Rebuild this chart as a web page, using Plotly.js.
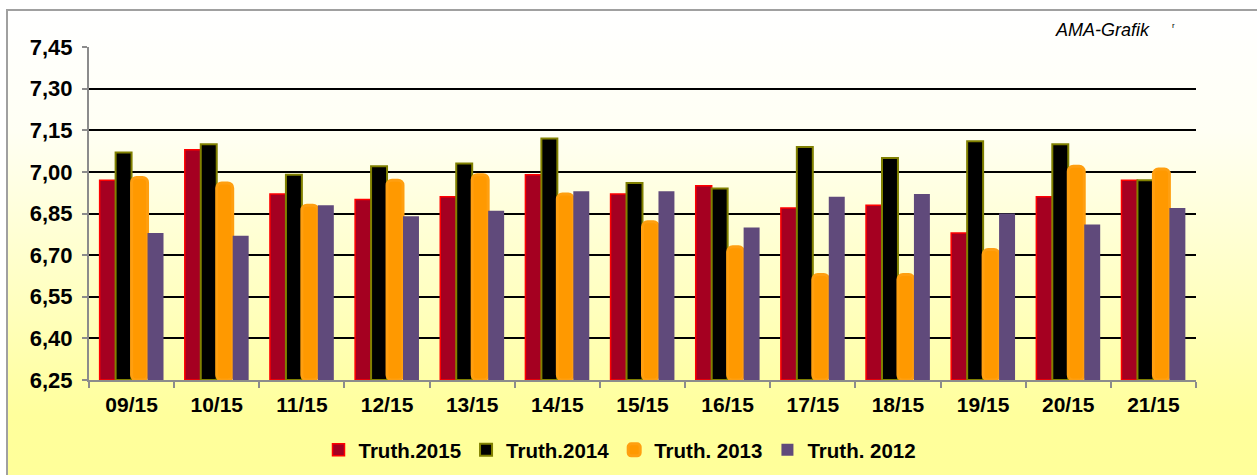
<!DOCTYPE html>
<html><head><meta charset="utf-8">
<script src="https://cdn.plot.ly/plotly-3.0.1.min.js"></script>
<style>
html,body{margin:0;padding:0;background:#fff;overflow:hidden;}
#bg{position:absolute;left:6px;top:9px;width:1260px;height:480px;border:2px solid #a0a0a0;box-sizing:border-box;
background:linear-gradient(to bottom,#ffffff 0%,#fffff4 25%,#ffffc8 55%,#ffff9c 85%,#ffff99 100%);}
#chart{position:absolute;left:0;top:0;width:1257px;height:475px;}
</style></head>
<body>
<div id="bg"></div>
<div id="chart"></div>
<script>
const categories = ["09/15","10/15","11/15","12/15","13/15","14/15","15/15","16/15","17/15","18/15","19/15","20/15","21/15"];
const truth2015 = [6.97,7.08,6.92,6.90,6.91,6.99,6.92,6.95,6.87,6.88,6.78,6.91,6.97];
const truth2014 = [7.07,7.10,6.99,7.02,7.03,7.12,6.96,6.94,7.09,7.05,7.11,7.10,6.97];
const truth2013 = [6.98,6.96,6.88,6.97,6.99,6.92,6.82,6.73,6.63,6.63,6.72,7.02,7.01];
const truth2012 = [6.78,6.77,6.88,6.84,6.86,6.93,6.93,6.80,6.91,6.92,6.85,6.81,6.87];
const seriesNames = ["Truth.2015","Truth.2014","Truth. 2013","Truth. 2012"];
const yTicks = [6.25,6.40,6.55,6.70,6.85,7.00,7.15,7.30,7.45];
const axisMin = 6.25;

const traces = [
  {type:'bar', name:seriesNames[0], x:categories, y:truth2015, marker:{color:'#A50021', line:{color:'#FF0000', width:1.5}}},
  {type:'bar', name:seriesNames[1], x:categories, y:truth2014, marker:{color:'#000000', line:{color:'#808000', width:2}}},
  {type:'bar', name:seriesNames[2], x:categories, y:truth2013, marker:{color:'#FF9900', line:{color:'#FF9F10', width:3}, cornerradius:5}},
  {type:'bar', name:seriesNames[3], x:categories, y:truth2012, marker:{color:'#604A7B', line:{color:'#604A7B', width:0}}}
];
traces.forEach(t => { t.base = axisMin; t.y = t.y.map(v => v - axisMin); t.hoverinfo='skip'; });

const layout = {
  width:1257, height:475,
  margin:{l:89, r:61, t:47, b:95, autoexpand:false},
  paper_bgcolor:'rgba(0,0,0,0)', plot_bgcolor:'rgba(0,0,0,0)',
  font:{family:'"Liberation Sans", Arial, sans-serif', color:'#000'},
  barmode:'group', bargap:0.25, bargroupgap:0,
  showlegend:true,
  legend:{orientation:'h', x:(620-89)/1107, xanchor:'center', xref:'paper', yref:'container', y:1-450/475, yanchor:'middle',
          font:{size:20.5, family:'"Liberation Sans", Arial, sans-serif', weight:'bold'},
          itemwidth:30, traceorder:'normal', bgcolor:'rgba(0,0,0,0)'},
  xaxis:{type:'category', showgrid:false, showline:true, linecolor:'#8c8c8c', linewidth:2, automargin:false,
         ticks:'outside', tickson:'boundaries', ticklen:6, tickcolor:'#8c8c8c', tickwidth:2,
         ticklabelstandoff:5,
         tickfont:{size:21, weight:'bold'}, zeroline:false},
  yaxis:{range:[6.25,7.45], tickvals:yTicks, ticktext:yTicks.map(v=>v.toFixed(2).replace('.',',')), automargin:false,
         showgrid:true, gridcolor:'#000', gridwidth:2, showline:true, linecolor:'#8c8c8c', linewidth:2,
         ticks:'outside', ticklen:5, tickcolor:'#8c8c8c', tickwidth:2, ticklabelstandoff:5,
         tickfont:{size:22, weight:'bold'}, zeroline:false},
  annotations:[
    {xref:'paper', yref:'paper', x:(1102-89)/1107, y:1+(47-30)/333, xanchor:'center', yanchor:'middle',
     text:'<i>AMA-Grafik</i>', showarrow:false, font:{size:18}},
    {xref:'paper', yref:'paper', x:(1173-89)/1107, y:1+(47-26)/333, xanchor:'center', yanchor:'middle',
     text:'r', showarrow:false, font:{size:8}}
  ]
};
Plotly.newPlot('chart', traces, layout, {staticPlot:true, displayModeBar:false});
</script>
</body></html>
